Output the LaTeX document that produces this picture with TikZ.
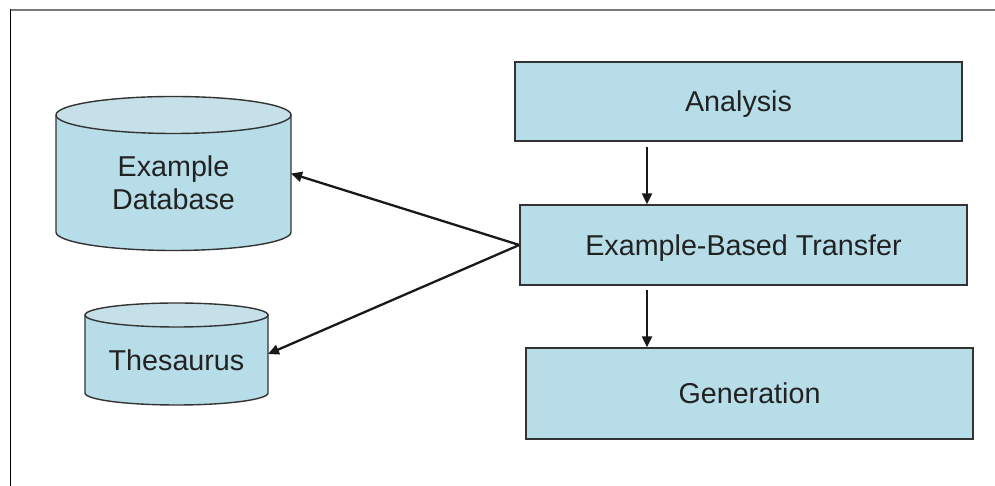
\documentclass[tikz,border=0pt]{standalone}
\usepackage{fontspec}
\setmainfont{Liberation Sans}
\usetikzlibrary{arrows.meta}
\definecolor{boxfill}{HTML}{B7DDE8}
\definecolor{capfill}{HTML}{C6E0E9}
\definecolor{edge}{HTML}{333333}
\definecolor{framegray}{HTML}{7A7A7A}
\definecolor{ink}{HTML}{222222}

\begin{document}
\begin{tikzpicture}[x=1pt,y=1pt,
  labelfont/.style={font=\fontsize{28.7}{33.5}\selectfont, text=ink},
  stage/.style={draw=edge, line width=1.4pt, fill=boxfill, minimum width=447pt,
    inner sep=0pt, text height=20.5pt, text depth=0pt, labelfont},
  outline/.style={draw=edge, line width=1.4pt},
  link/.style={draw=black!90, line width=2.3pt, -{Triangle[length=11pt,width=10pt]}},
  hull/.style={inner sep=0pt, outer sep=0pt}
]
\useasboundingbox (0,0) rectangle (995,486);

% page frame
\draw[framegray, line width=2pt] (10,476) -- (995,476);
\draw[black, line width=1pt] (10,477) -- (10,0);

% pipeline stages
\node[stage, minimum height=79pt] (ana) at (738.5,384.5) {Analysis};
\node[stage, minimum height=80pt] (ebt) at (743.5,241) {Example-Based Transfer};
\node[stage, minimum height=91pt] (gen) at (749.5,92.5) {Generation};

% example database cylinder
\node[hull, minimum width=235pt, minimum height=117pt] (db) at (173.5,312.5) {};
\fill[boxfill] (db.north west) -- (db.south west)
  arc[start angle=180, end angle=360, x radius=117.5pt, y radius=18.5pt]
  -- (db.north east) -- cycle;
\draw[outline] (db.north west) -- (db.south west)
  arc[start angle=180, end angle=360, x radius=117.5pt, y radius=18.5pt]
  -- (db.north east);
\draw[outline, fill=capfill] (db.north) ellipse[x radius=117.5pt, y radius=18.5pt];
\node[labelfont, align=center, inner sep=0pt] (dblabel) at ([yshift=-9pt]db.center)
  {Example\\Database};

% thesaurus cylinder
\node[hull, minimum width=183pt, minimum height=78pt] (th) at (176.5,132) {};
\fill[boxfill] (th.north west) -- (th.south west)
  arc[start angle=180, end angle=360, x radius=91.5pt, y radius=12pt]
  -- (th.north east) -- cycle;
\draw[outline] (th.north west) -- (th.south west)
  arc[start angle=180, end angle=360, x radius=91.5pt, y radius=12pt]
  -- (th.north east);
\draw[outline, fill=capfill] (th.north) ellipse[x radius=91.5pt, y radius=12pt];
\node[labelfont, inner sep=0pt] (thlabel) at ([yshift=-6pt]th.center) {Thesaurus};

% connectors
\coordinate (spine) at (647,0);
\draw[link] ([yshift=-5pt]ana.south -| spine) -- (ebt.north -| spine);
\draw[link] ([yshift=-4pt]ebt.south -| spine) -- (gen.north -| spine);
\draw[link] (ebt.west) -- (db.east);
\draw[link] (ebt.west) -- (th.east);
\end{tikzpicture}
\end{document}
